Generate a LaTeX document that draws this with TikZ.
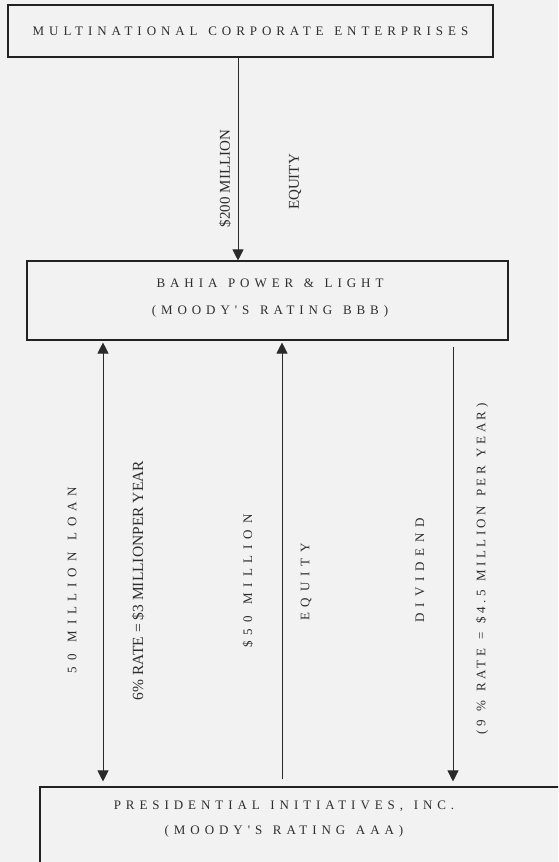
\documentclass[tikz,border=0pt]{standalone}
\usepackage{fontspec}
\usepackage{xcolor}
\usetikzlibrary{arrows.meta,positioning}
\setmainfont{Liberation Serif}
\newfontfamily\firmfont[LetterSpace=38, WordSpace=1.3]{Liberation Serif}
\newfontfamily\spacedfont[LetterSpace=45, WordSpace=1.3]{Liberation Serif}
\newfontfamily\loosefont[LetterSpace=27, WordSpace=1.3]{Liberation Serif}
\newcommand{\pagewidth}{558}
\newcommand{\pageheight}{862}
\definecolor{pagebg}{HTML}{F2F2F2}
\definecolor{boxline}{HTML}{222222}
\definecolor{flowline}{HTML}{2A2A2A}
\definecolor{labelcolor}{HTML}{2E2E2E}

\tikzset{
  firm/.style={draw=boxline, line width=1.1pt, inner sep=0pt},
  firmtext/.style={font=\firmfont\fontsize{13}{27}\selectfont, text=labelcolor, align=center},
  flow/.style={draw=flowline, line width=0.8pt},
  flowtip/.style={flow, -{Triangle[width=11pt,length=11pt]}},
  flowboth/.style={flow, {Triangle[width=11pt,length=11pt]}-{Triangle[width=11pt,length=11pt]}},
  amount/.style={rotate=90, font=\fontsize{15}{18}\selectfont, text=labelcolor, inner sep=0pt},
  spacedamount/.style={rotate=90, font=\spacedfont\fontsize{13}{15}\selectfont, text=labelcolor, inner sep=0pt}
}

\begin{document}
\begin{tikzpicture}[x=1pt, y=-1pt]
  \fill[pagebg] (0,0) rectangle (\pagewidth, \pageheight);
  \useasboundingbox (0,0) rectangle (\pagewidth, \pageheight);
  \clip (0,0) rectangle (\pagewidth, \pageheight);

  % === FIRMS ===
  \node[firm, minimum width=485pt, minimum height=52pt] (multi) at (250.5, 31) {};
  \node[firmtext] (multitext) at (multi.center) {MULTINATIONAL CORPORATE ENTERPRISES};

  \node[firm, minimum width=481pt, minimum height=79pt] (bahia) at (267.5, 300.5) {};
  \node[firmtext] (bahiatext) at (270, 298.5) {BAHIA POWER \& LIGHT\\(MOODY'S RATING BBB)};

  % box runs off the page on the right and bottom
  \node[firm, minimum width=540pt, minimum height=113pt] (pres) at (310, 843.5) {};
  \node[firmtext, font=\firmfont\fontsize{13}{25}\selectfont] (prestext) at (284, 819.5) {PRESIDENTIAL INITIATIVES, INC.\\(MOODY'S RATING AAA)};

  % === FLOWS ===
  \coordinate (xtop) at (238, 0);
  \coordinate (xloan) at (103, 0);
  \coordinate (xequity) at (282, 0);
  \coordinate (xdiv) at (453, 0);

  \draw[flowtip] (multi.south -| xtop) -- (bahia.north -| xtop);
  \draw[flowboth] ([yshift=-2pt]bahia.south -| xloan) -- ([yshift=5pt]pres.north -| xloan);
  \draw[flowtip] ([yshift=7pt]pres.north -| xequity) -- ([yshift=-2pt]bahia.south -| xequity);
  \draw[flowtip] ([yshift=-6pt]bahia.south -| xdiv) -- ([yshift=5pt]pres.north -| xdiv);

  % === LABELS ===
  \node[amount] (topamount) at (225, 178.5) {\$200 MILLION};
  \node[amount] (topequity) at (295, 182) {EQUITY};

  \node[spacedamount] (loan) at (72, 580) {50 MILLION LOAN};
  \node[amount, font=\fontsize{15.5}{18}\selectfont] (loanrate) at (138, 580.5) {6\% RATE = \$3 MILLIONPER YEAR};
  \node[spacedamount] (equityamount) at (248, 581) {\$50 MILLION};
  \node[spacedamount] (equity) at (306, 582) {EQUITY};
  \node[spacedamount] (dividend) at (420, 570) {DIVIDEND};
  \node[spacedamount, font=\loosefont\fontsize{13}{15}\selectfont] (divrate) at (482, 569) {(9 \% RATE = \$4.5 MILLION PER YEAR)};
\end{tikzpicture}
\end{document}
